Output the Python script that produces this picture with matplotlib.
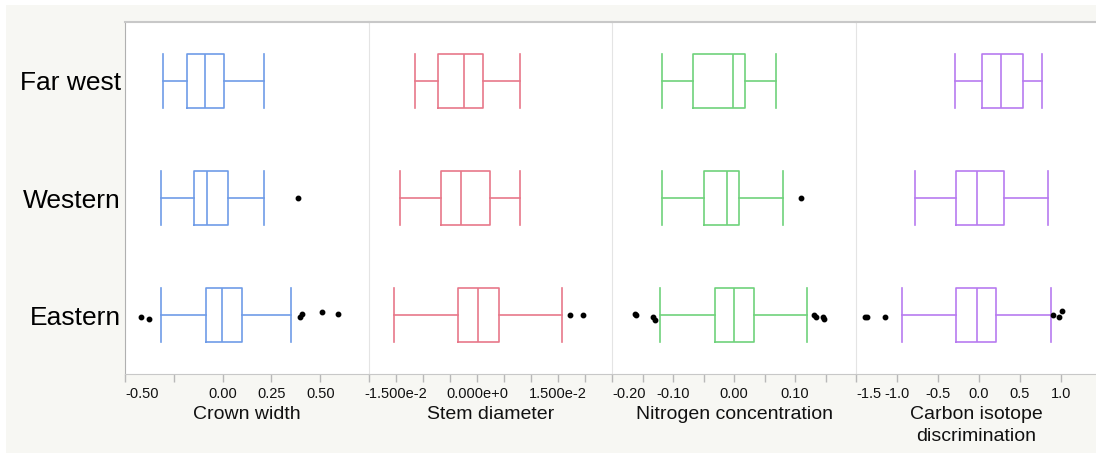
import matplotlib
matplotlib.use("Agg")
import matplotlib.pyplot as plt
from matplotlib.patches import Rectangle
from matplotlib.ticker import FixedLocator, FixedFormatter

plt.rcParams['font.family'] = ['Liberation Sans', 'DejaVu Sans']

categories = ["Far west", "Western", "Eastern"]
traits = ["Crown width", "Stem diameter", "Nitrogen concentration", "Carbon isotope\ndiscrimination"]
colors = ["#6f9ce8", "#e8788a", "#6fd27c", "#b77bf0"]

# per trait: [whislo, q1, med, q3, whishi] for Far west, Western, Eastern
crown = [[-0.306, -0.181, -0.091, 0.007, 0.210],
         [-0.318, -0.144, -0.082, 0.026, 0.210],
         [-0.318, -0.087, -0.004, 0.097, 0.350]]
stem = [[-0.0114, -0.0072, -0.0024, 0.0011, 0.0079],
        [-0.0142, -0.0066, -0.0029, 0.0024, 0.0079],
        [-0.0153, -0.0036, 0.0002, 0.0041, 0.0158]]
nitro = [[-0.1175, -0.0672, -0.0011, 0.0175, 0.0684],
         [-0.1180, -0.0490, -0.0115, 0.0082, 0.0800],
         [-0.1210, -0.0307, 0.0000, 0.0328, 0.1197]]
carbon = [[-0.288, 0.041, 0.275, 0.535, 0.770],
          [-0.778, -0.284, -0.025, 0.309, 0.840],
          [-0.938, -0.275, -0.020, 0.206, 0.885]]

# outliers: values and small vertical jitter (category units)
crown_out = [[], [0.385], [-0.418, -0.378, 0.395, 0.409, 0.509, 0.591]]
crown_jit = [[], [0.0], [-0.01, -0.03, -0.01, 0.01, 0.03, 0.01]]
stem_out = [[], [], [0.0172, 0.0197]]
stem_jit = [[], [], [0.0, 0.0]]
nitro_out = [[], [0.110], [-0.163, -0.160, -0.132, -0.130, 0.131, 0.134, 0.146, 0.148]]
nitro_jit = [[], [0.0], [0.01, 0.0, -0.01, -0.04, 0.0, -0.01, -0.01, -0.03]]
carbon_out = [[], [], [-1.395, -1.360, -1.150, 0.905, 0.980, 1.020]]
carbon_jit = [[], [], [-0.01, -0.01, -0.01, 0.0, -0.01, 0.04]]

stats_all = [crown, stem, nitro, carbon]
outs_all = [crown_out, stem_out, nitro_out, carbon_out]
jits_all = [crown_jit, stem_jit, nitro_jit, carbon_jit]

xlims = [(-0.5, 0.75), (-0.02, 0.025), (-0.2, 0.2), (-1.5, 1.43)]
major_ticks = [[-0.5, -0.25, 0.0, 0.25, 0.5],
               [-0.02, -0.015, -0.01, -0.005, 0.0, 0.005, 0.01, 0.015, 0.02],
               [-0.2, -0.15, -0.1, -0.05, 0.0, 0.05, 0.1, 0.15],
               [-1.5, -1.0, -0.5, 0.0, 0.5, 1.0]]
tick_labels = [["-0.50", "", "0.00", "0.25", "0.50"],
               ["", "-1.500e-2", "", "", "0.000e+0", "", "", "1.500e-2", ""],
               ["-0.20", "", "-0.10", "", "0.00", "", "0.10", ""],
               ["-1.5", "-1.0", "-0.5", "0.0", "0.5", "1.0"]]

W, H = 1096, 454
fig = plt.figure(figsize=(W / 100, H / 100), dpi=100, facecolor="white")
fig.patches.append(Rectangle((6 / W, 1 - 453 / H), (W - 6) / W, 448 / H,
                             transform=fig.transFigure, facecolor="#f7f7f3",
                             edgecolor="none", zorder=-10))

edges = [125, 369, 612, 856, 1096]
top_px, bot_px = 22, 374
positions = [2, 1, 0]

for i in range(4):
    ax = fig.add_axes([edges[i] / W, 1 - bot_px / H, (edges[i + 1] - edges[i]) / W,
                       (bot_px - top_px) / H])
    ax.set_facecolor("white")
    c = colors[i]
    bstats = []
    for j, s in enumerate(stats_all[i]):
        bstats.append(dict(whislo=s[0], q1=s[1], med=s[2], q3=s[3], whishi=s[4], fliers=[]))
    lp = dict(color=c, linewidth=1.2)
    ax.bxp(bstats, positions=positions, orientation="horizontal", widths=0.46,
           showfliers=False, boxprops=lp, whiskerprops=lp, capprops=lp,
           medianprops=lp, capwidths=0.46)
    for j in range(3):
        vals = outs_all[i][j]
        if vals:
            ys = [positions[j] + d for d in jits_all[i][j]]
            ax.plot(vals, ys, "o", color="black", markersize=3.2, linestyle="none")
    ax.set_xlim(*xlims[i])
    ax.set_ylim(-0.5, 2.5)
    ax.xaxis.set_major_locator(FixedLocator(major_ticks[i]))
    ax.xaxis.set_major_formatter(FixedFormatter(tick_labels[i]))
    ax.tick_params(axis="x", direction="out", length=6, width=1, color="#b8b8b8",
                   labelsize=10.5, pad=3, labelcolor="#111111")
    # left-edge labels are pushed right to stay inside the panel
    for lbl, t in zip(ax.get_xticklabels(), major_ticks[i]):
        if abs(t - xlims[i][0]) < 1e-9 and lbl.get_text():
            lbl.set_horizontalalignment("left")
            lbl.set_x(t)
    ax.set_xlabel(traits[i], fontsize=14, labelpad=4, linespacing=1.35, color="#111111")
    ax.spines["right"].set_visible(False)
    ax.spines["top"].set_color("#c8c8c8")
    ax.spines["top"].set_linewidth(1.5)
    ax.spines["bottom"].set_color("#c8c8c8")
    ax.spines["left"].set_color("#b0b0b0" if i == 0 else "#e4e4e4")
    if i == 0:
        ax.set_yticks(positions)
        ax.set_yticklabels(categories, fontsize=19)
        ax.tick_params(axis="y", length=0, pad=3)
    else:
        ax.set_yticks([])

fig.savefig("out.png", dpi=100, facecolor="white")
